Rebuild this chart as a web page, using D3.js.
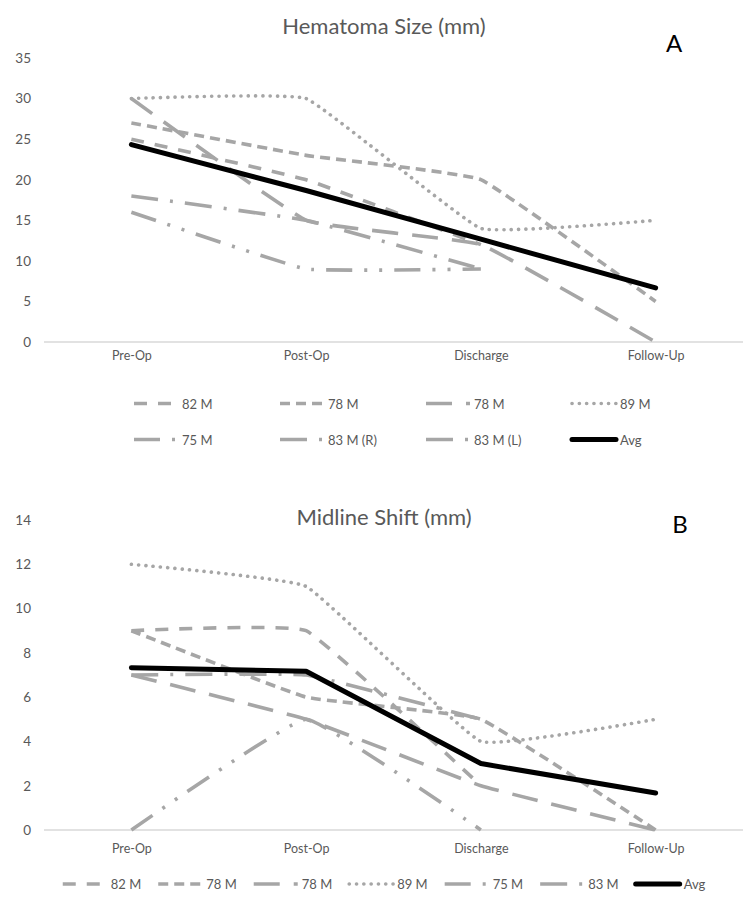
<!DOCTYPE html>
<meta charset="utf-8">
<script src="https://d3js.org/d3.v7.min.js"></script>
<style>
    body { margin: 0; background: #fff; }
    text { font-family: Lato, "Open Sans", sans-serif; }
</style>
<body>
<div id="my_dataviz"></div>
<script>

    // categories on the x axis (shared by both charts)
    var categories = ["Pre-Op", "Post-Op", "Discharge", "Follow-Up"];

    // ---- chart A : hematoma size (mm)
    var hemaNames = ["82 M", "78 M", "78 M", "89 M", "75 M", "83 M (R)", "83 M (L)"];
    var hema82M = [25, 20, 12, null];
    var hema78Ma = [27, 23, 20, 5];
    var hema78Mb = [30, 15, 12, 0];
    var hema89M = [30, 30, 14, 15];
    var hema75M = [16, 9, 9, null];
    var hema83MR = [18, 15, 9, null];
    var hema83ML = [null, null, null, null];
    var hemaAvg = [24.33, 18.67, 12.67, 6.67];
    var hemaTicks = [0, 5, 10, 15, 20, 25, 30, 35];

    // ---- chart B : midline shift (mm)
    var shiftNames = ["82 M", "78 M", "78 M", "89 M", "75 M", "83 M"];
    var shift82M = [9, 9, 2, null];
    var shift78Ma = [9, 6, 5, 0];
    var shift78Mb = [7, 5, 2, 0];
    var shift89M = [12, 11, 4, 5];
    var shift75M = [0, 5, 0, null];
    var shift83M = [7, 7, 5, null];
    var shiftAvg = [7.33, 7.17, 3, 1.67];
    var shiftTicks = [0, 2, 4, 6, 8, 10, 12, 14];

    // dash styles, one per patient series (Excel-like)
    var dashDash = "13,11";
    var dashSys = "10,6";
    var dashLong = "26,14";
    var dashDot = "0.1,7.2";
    var dashLongDotDot = "26,12,3,12,3,12";
    var dashLongDot = "27,12,3,12";

    var hemaDashes = [dashDash, dashSys, dashLong, dashDot, dashLongDotDot, dashLongDot, dashLongDot];
    var shiftDashes = [dashDash, dashSys, dashLong, dashDot, dashLongDotDot, dashLongDot];

    var grey = "#a6a6a6";
    var textColor = "#595959";

    var svg = d3.select("#my_dataviz")
        .append("svg")
        .attr("width", 750)
        .attr("height", 899);

    var x = d3.scalePoint()
        .domain(categories)
        .range([44, 743])
        .padding(0.5);

    function drawChart(cfg) {
        var y = d3.scaleLinear()
            .domain([0, d3.max(cfg.ticks)])
            .range([cfg.bottom, cfg.top]);

        var g = svg.append("g");

        // title + panel letter
        g.append("text")
            .attr("x", 384)
            .attr("y", cfg.titleY)
            .attr("text-anchor", "middle")
            .attr("dominant-baseline", "central")
            .attr("font-size", "22px")
            .attr("fill", textColor)
            .text(cfg.title);
        g.append("text")
            .attr("x", cfg.letterX)
            .attr("y", cfg.letterY)
            .attr("text-anchor", "middle")
            .attr("dominant-baseline", "central")
            .attr("font-size", "24px")
            .attr("fill", "#000")
            .text(cfg.letter);

        // y axis: labels only
        var yAxis = g.append("g")
            .attr("transform", "translate(31,0)")
            .call(d3.axisLeft(y).tickValues(cfg.ticks).tickSize(0).tickPadding(0));
        yAxis.select(".domain").remove();
        yAxis.selectAll("text")
            .attr("font-family", "Lato, sans-serif")
            .attr("font-size", "13.5px")
            .attr("fill", textColor);

        // x axis: baseline + category labels
        var xAxis = g.append("g")
            .attr("transform", "translate(0," + cfg.bottom + ")")
            .call(d3.axisBottom(x).tickSize(0).tickPadding(cfg.labelPad));
        xAxis.select(".domain")
            .attr("d", "M44,0H743")
            .attr("stroke", "#d9d9d9")
            .attr("stroke-width", 1.3);
        xAxis.selectAll("text")
            .attr("font-family", "Lato, sans-serif")
            .attr("font-size", "12.5px")
            .attr("fill", textColor);

        // Excel "smoothed line" look, with little overshoot
        var smooth = d3.line()
            .defined(function (d) { return d != null; })
            .x(function (d, i) { return x(categories[i]); })
            .y(function (d) { return y(d); })
            .curve(d3.curveCardinal.tension(0.72));

        var straight = d3.line()
            .x(function (d, i) { return x(categories[i]); })
            .y(function (d) { return y(d); });

        cfg.series.forEach(function (s, i) {
            g.append("path")
                .datum(s)
                .attr("d", smooth)
                .attr("fill", "none")
                .attr("stroke", grey)
                .attr("stroke-width", 3.6)
                .attr("stroke-dasharray", cfg.dashes[i])
                .attr("stroke-linecap", cfg.dashes[i] === dashDot ? "round" : "butt");
        });

        g.append("path")
            .datum(cfg.avg)
            .attr("d", straight)
            .attr("fill", "none")
            .attr("stroke", "#000")
            .attr("stroke-width", 5)
            .attr("stroke-linejoin", "round")
            .attr("stroke-linecap", "round");

        // legend
        var names = cfg.names.concat(["Avg"]);
        var leg = g.append("g");
        var items = names.map(function (name, i) {
            var item = leg.append("g");
            var isAvg = i === names.length - 1;
            item.append("line")
                .attr("x1", 0).attr("x2", 44)
                .attr("y1", 0).attr("y2", 0)
                .attr("stroke", isAvg ? "#000" : grey)
                .attr("stroke-width", isAvg ? 5 : 3.6)
                .attr("stroke-dasharray", isAvg ? null : cfg.dashes[i])
                .attr("stroke-linecap", isAvg ? "round" : (cfg.dashes[i] === dashDot ? "round" : "butt"));
            var t = item.append("text")
                .attr("x", 48)
                .attr("y", 0)
                .attr("dominant-baseline", "central")
                .attr("font-size", "13px")
                .attr("fill", textColor)
                .text(name);
            return { g: item, w: 48 + t.node().getComputedTextLength() };
        });

        if (cfg.legendCols) {
            items.forEach(function (it, i) {
                var col = i % cfg.legendCols, row = Math.floor(i / cfg.legendCols);
                it.g.attr("transform", "translate(" + (134 + col * 146) + "," + cfg.legendRows[row] + ")");
            });
        } else {
            var gap = 17;
            var total = d3.sum(items, function (d) { return d.w; }) + gap * (items.length - 1);
            var cx = 384 - total / 2;
            items.forEach(function (it) {
                it.g.attr("transform", "translate(" + cx + "," + cfg.legendRows[0] + ")");
                cx += it.w + gap;
            });
        }
    }

    // panel A
    drawChart({
        title: "Hematoma Size (mm)", titleY: 25,
        letter: "A", letterX: 674, letterY: 42,
        top: 58, bottom: 342, labelPad: 9,
        ticks: hemaTicks,
        series: [hema82M, hema78Ma, hema78Mb, hema89M, hema75M, hema83MR, hema83ML],
        dashes: hemaDashes,
        avg: hemaAvg,
        names: hemaNames,
        legendCols: 4, legendRows: [403.5, 439.5]
    });

    // panel B
    drawChart({
        title: "Midline Shift (mm)", titleY: 516,
        letter: "B", letterX: 680, letterY: 523,
        top: 520, bottom: 830, labelPad: 14,
        ticks: shiftTicks,
        series: [shift82M, shift78Ma, shift78Mb, shift89M, shift75M, shift83M],
        dashes: shiftDashes,
        avg: shiftAvg,
        names: shiftNames,
        legendRows: [884]
    });

</script>
</body>
